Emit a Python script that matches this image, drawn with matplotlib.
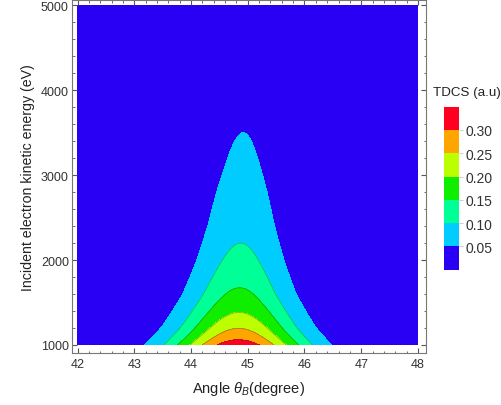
import numpy as np
import matplotlib
matplotlib.use("Agg")
import matplotlib.pyplot as plt
import matplotlib.colors as mcolors
import matplotlib.colorbar as mcolorbar
from matplotlib.ticker import MultipleLocator

plt.rcParams['font.family'] = ['Liberation Sans', 'DejaVu Sans']
plt.rcParams['mathtext.fontset'] = 'custom'
plt.rcParams['mathtext.it'] = 'Liberation Sans:italic'
plt.rcParams['mathtext.rm'] = 'Liberation Sans'

peak_energy = [1000, 1062, 1196, 1384, 1674, 2200, 3500, 5000]
peak_tdcs = [0.33, 0.30, 0.25, 0.20, 0.15, 0.10, 0.05, 0.029]

# angular width (sigma, degree) of the peak at a few energies
width_energy = [1000, 1200, 1600, 2000, 2400, 2800, 3200, 3600, 5000]
width_sigma = [0.85, 0.765, 0.655, 0.595, 0.555, 0.545, 0.51, 0.49, 0.42]

# ridge position (degree)
center_energy = [1000, 2000, 3500, 5000]
center_angle = [44.83, 44.87, 44.92, 44.93]

levels = [0.0, 0.05, 0.10, 0.15, 0.20, 0.25, 0.30, 0.35]
level_colors = ['#2a00f5', '#00ccff', '#00ff96', '#10ee00', '#bbff00', '#ffa500', '#ff0020']
cbar_ticks = [0.05, 0.10, 0.15, 0.20, 0.25, 0.30]

# build the field
angle = np.linspace(42, 48, 601)
energy = np.linspace(1000, 5000, 801)
A, E = np.meshgrid(angle, energy)
logp = np.interp(np.log(energy), np.log(peak_energy), np.log(peak_tdcs))
p = np.exp(logp)[:, None]
s = np.interp(energy, width_energy, width_sigma)[:, None]
c = np.interp(energy, center_energy, center_angle)[:, None]
Z = p * np.exp(-(A - c) ** 2 / (2 * s ** 2))
Z = np.clip(Z, 0, 0.3499)

fig = plt.figure(figsize=(5.01, 4.06), dpi=100)
ax = fig.add_axes([0.1443, 0.1288, 0.8497 - 0.1443, 0.998 - 0.1288])

cmap = mcolors.ListedColormap(level_colors)
norm = mcolors.BoundaryNorm(levels, cmap.N)
ax.contourf(A, E, Z, levels=levels, cmap=cmap, norm=norm)
ax.contour(A, E, Z, levels=levels[2:-1], colors='#1a4a30', linewidths=0.5, alpha=0.45)

ax.set_xlim(41.908, 48.136)
ax.set_ylim(909, 5066)
ax.xaxis.set_major_locator(MultipleLocator(1))
ax.xaxis.set_minor_locator(MultipleLocator(0.2))
ax.yaxis.set_major_locator(MultipleLocator(1000))
ax.yaxis.set_minor_locator(MultipleLocator(200))
ax.tick_params(which='both', direction='in', top=True, right=True, color='#555555',
               labelsize=9, labelcolor='#333333')
ax.tick_params(which='major', length=3.4, width=0.8)
ax.tick_params(which='minor', length=1.8, width=0.6)
ax.tick_params(axis='x', pad=4)
ax.tick_params(axis='y', pad=2.5)
for sp in ax.spines.values():
    sp.set_color('#777777')
    sp.set_linewidth(0.8)

ax.set_xlabel(r'Angle $\theta_B$(degree)', fontsize=10.5, color='#222222', labelpad=6)
ax.set_ylabel('Incident electron kinetic energy (eV)', fontsize=10.2, color='#222222', labelpad=4)

cax = fig.add_axes([444 / 501, 1 - 270.7 / 406, 15 / 501, 163 / 406])
cb = mcolorbar.ColorbarBase(cax, cmap=cmap, norm=norm, boundaries=levels,
                            ticks=cbar_ticks, spacing='uniform')
cb.outline.set_visible(False)
cb.ax.minorticks_off()
cb.ax.set_yticklabels([f'{t:.2f}' for t in cbar_ticks])
cb.ax.tick_params(length=3, width=0.5, color='#bbbbbb', labelsize=10, labelcolor='#333333', pad=2)
fig.text(433 / 501, 1 - 93 / 406, 'TDCS (a.u)', fontsize=9.6, color='#222222', va='center', ha='left')

fig.savefig('out.png', dpi=100)
